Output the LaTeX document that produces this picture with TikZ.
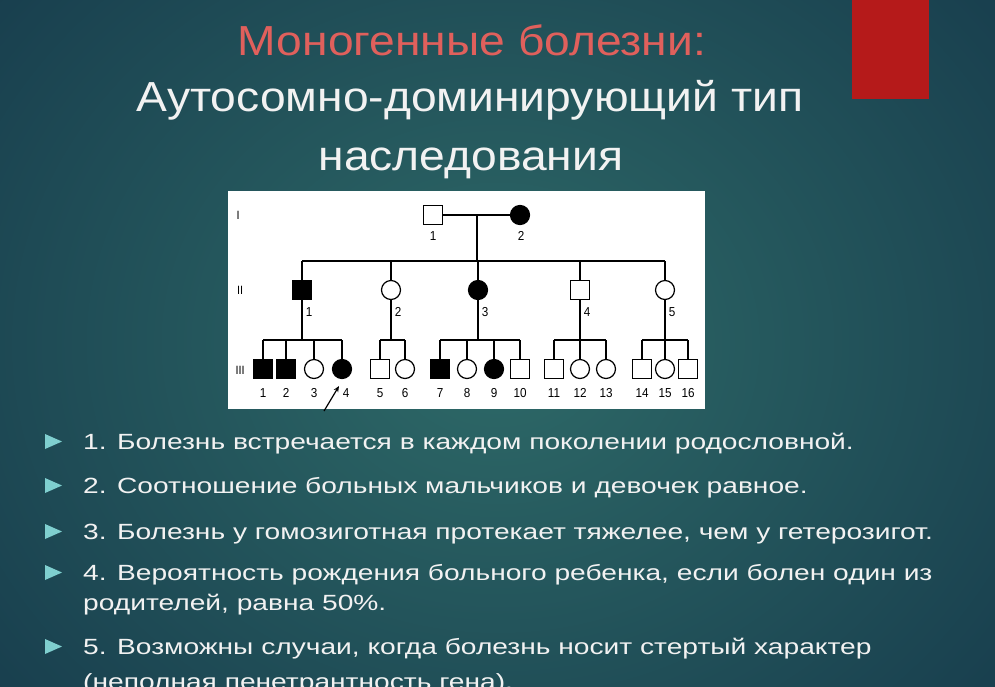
\documentclass[tikz,border=0pt]{standalone}
\usepackage{fontspec}
\setmainfont{Liberation Sans}
\newfontfamily\titlefont[FakeStretch=1.1]{Liberation Sans}
\newfontfamily\bulletfont[FakeStretch=1.28]{Liberation Sans}
\newfontfamily\pedfont[FakeStretch=0.9]{Liberation Sans}
\usetikzlibrary{arrows.meta}
\definecolor{bgedge}{HTML}{15384A}
\definecolor{bgmid}{HTML}{2E6A68}
\definecolor{redbox}{HTML}{B51A1A}
\definecolor{titlered}{HTML}{E0605C}
\definecolor{bullet}{HTML}{7FCFCF}
\definecolor{txt}{HTML}{F2F2F2}
\tikzset{
  ind/.style={draw=black, line width=1.2pt, minimum size=19pt, inner sep=0pt, outer sep=0pt},
  msq/.style={ind, rectangle, fill=white},
  fsq/.style={ind, rectangle, fill=black},
  mci/.style={ind, circle, fill=white},
  fci/.style={ind, circle, fill=black},
  lab/.style={font=\pedfont\fontsize{13}{13}\selectfont, text=black, inner sep=0pt},
  gen/.style={font=\pedfont\fontsize{12}{12}\selectfont, text=black, inner sep=0pt},
  ln/.style={draw=black, line width=1.2pt},
  title/.style={font=\titlefont\fontsize{42}{42}\selectfont, inner sep=0pt, anchor=base},
  btext/.style={font=\bulletfont\fontsize{22}{22}\selectfont, text=txt, inner sep=0pt, anchor=base west},
  btri/.style={fill=bullet, draw=none}
}
\begin{document}
\begin{tikzpicture}[x=1pt,y=-1pt]
\useasboundingbox (0,0) rectangle (995,686);
\clip (0,0) rectangle (995,686);
% background
\shade[inner color=bgmid, outer color=bgedge] (-250,-300) rectangle (1245,986);
% red box
\fill[redbox] (852,0) rectangle (929,99);
% titles
\node[title, text=titlered] (t1) at (472,55) {Моногенные болезни:};
\node[title, text=txt] (t2) at (470,111) {Аутосомно-доминирующий тип};
\node[title, text=txt] (t3) at (471,170) {наследования};
% pedigree panel
\fill[white] (228,191) rectangle (705,409);
\node[gen] (gI) at (238,215) {I};
\node[gen] (gII) at (240,290) {II};
\node[gen] (gIII) at (240,370) {III};
% generation I
\node[msq] (I1) at (433,215) {};
\node[fci] (I2) at (520,215) {};
\node[lab] (lI1) at (433,236) {1};
\node[lab] (lI2) at (521,236) {2};
\coordinate (m1) at (477,215);
\coordinate (s2) at (477,261);
\draw[ln] (I1.east) -- (I2.west);
\draw[ln] (m1) -- (s2);
% generation II
\node[fsq] (II1) at (302,290) {};
\node[mci] (II2) at (391,290) {};
\node[fci] (II3) at (478,290) {};
\node[msq] (II4) at (580,290) {};
\node[mci] (II5) at (665,290) {};
\node[lab] (lII1) at (309,312) {1};
\node[lab] (lII2) at (398,312) {2};
\node[lab] (lII3) at (485,312) {3};
\node[lab] (lII4) at (587,312) {4};
\node[lab] (lII5) at (672,312) {5};
\draw[ln] (II1 |- s2) -- (II5 |- s2);
\foreach \n in {II1,II2,II3,II4,II5} \draw[ln] (\n.north) -- (\n |- s2);
% generation III
\coordinate (s3) at (0,340);
\node[fsq] (III1) at (263,369) {};
\node[fsq] (III2) at (286,369) {};
\node[mci] (III3) at (314,369) {};
\node[fci] (III4) at (342,369) {};
\node[msq] (III5) at (380,369) {};
\node[mci] (III6) at (405,369) {};
\node[fsq] (III7) at (440,369) {};
\node[mci] (III8) at (467,369) {};
\node[fci] (III9) at (494,369) {};
\node[msq] (III10) at (520,369) {};
\node[msq] (III11) at (554,369) {};
\node[mci] (III12) at (580,369) {};
\node[mci] (III13) at (606,369) {};
\node[msq] (III14) at (642,369) {};
\node[mci] (III15) at (665,369) {};
\node[msq] (III16) at (688,369) {};
\foreach \n/\t in {III1/1,III2/2,III3/3,III5/5,III6/6,III7/7,III8/8,III9/9,III10/10,III11/11,III12/12,III13/13,III14/14,III15/15,III16/16}
  \node[lab] (l\n) at ([yshift=-24pt]\n.center) {\t};
\node[lab] (lIII4) at ([xshift=4pt,yshift=-24pt]III4.center) {4};
% family connectors
\draw[ln] (II1.south) -- (II1 |- s3);
\draw[ln] (III1 |- s3) -- (III4 |- s3);
\foreach \n in {III1,III2,III3,III4} \draw[ln] (\n.north) -- (\n |- s3);
\draw[ln] (II2.south) -- (II2 |- s3);
\draw[ln] (III5 |- s3) -- (III6 |- s3);
\foreach \n in {III5,III6} \draw[ln] (\n.north) -- (\n |- s3);
\draw[ln] (II3.south) -- (II3 |- s3);
\draw[ln] (III7 |- s3) -- (III10 |- s3);
\foreach \n in {III7,III8,III9,III10} \draw[ln] (\n.north) -- (\n |- s3);
\draw[ln] (II4.south) -- (II4 |- s3);
\draw[ln] (III11 |- s3) -- (III13 |- s3);
\foreach \n in {III11,III12,III13} \draw[ln] (\n.north) -- (\n |- s3);
\draw[ln] (II5.south) -- (II5 |- s3);
\draw[ln] (III14 |- s3) -- (III16 |- s3);
\foreach \n in {III14,III15,III16} \draw[ln] (\n.north) -- (\n |- s3);
% proband arrow
\coordinate (pa) at (324,411);
\draw[black, line width=1.2pt, -{Stealth[length=6pt,width=5pt]}] (pa) -- (339,386);
% bullets
\foreach \y in {449,493,539,580,654}
  \fill[btri] (45,\y-15) -- (62,\y-7.5) -- (45,\y) -- cycle;
\node[btext] (b1) at (83,449) {1. Болезнь встречается в каждом поколении родословной.};
\node[btext] (b2) at (83,493) {2. Соотношение больных мальчиков и девочек равное.};
\node[btext] (b3) at (83,539) {3. Болезнь у гомозиготная протекает тяжелее, чем у гетерозигот.};
\node[btext] (b4) at (83,580) {4. Вероятность рождения больного ребенка, если болен один из};
\node[btext] (b4b) at (83,610) {родителей, равна 50\%.};
\node[btext] (b5) at (83,654) {5. Возможны случаи, когда болезнь носит стертый характер};
\node[btext] (b5b) at (83,689) {(неполная пенетрантность гена).};
\end{tikzpicture}
\end{document}
